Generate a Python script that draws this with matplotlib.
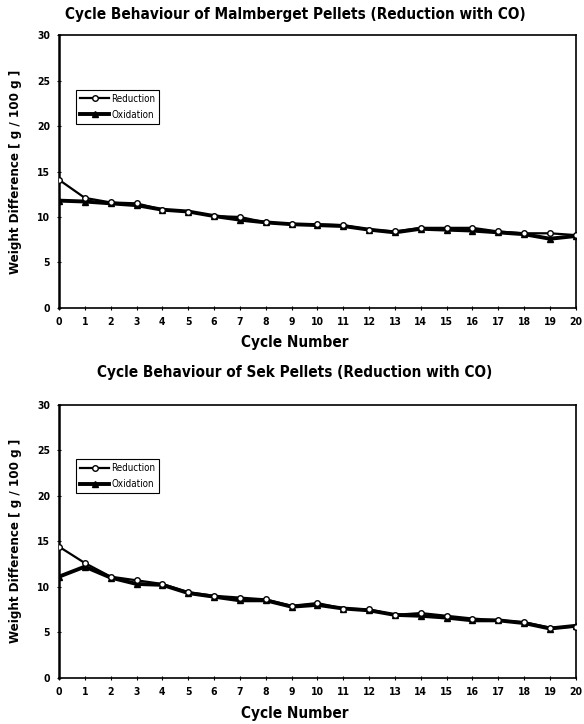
import matplotlib
matplotlib.use("Agg")
import matplotlib.pyplot as plt

cycles = list(range(21))

malm_reduction = [14.1, 12.1, 11.6, 11.5, 10.8, 10.6, 10.1, 10.0, 9.4, 9.2, 9.2,
                  9.1, 8.6, 8.4, 8.8, 8.8, 8.8, 8.4, 8.2, 8.2, 8.0]
malm_oxidation = [11.8, 11.7, 11.5, 11.3, 10.8, 10.6, 10.1, 9.7, 9.4, 9.2, 9.1,
                  9.0, 8.6, 8.3, 8.7, 8.6, 8.5, 8.3, 8.1, 7.6, 7.9]

sek_reduction = [14.4, 12.6, 11.1, 10.7, 10.3, 9.4, 9.0, 8.8, 8.6, 7.9, 8.2,
                 7.6, 7.5, 6.9, 7.1, 6.8, 6.5, 6.3, 6.1, 5.5, 5.6]
sek_oxidation = [11.1, 12.2, 11.0, 10.3, 10.2, 9.3, 8.9, 8.5, 8.5, 7.8, 8.0,
                 7.6, 7.4, 6.9, 6.8, 6.6, 6.3, 6.3, 6.0, 5.4, 5.7]

titles = ["Cycle Behaviour of Malmberget Pellets (Reduction with CO)",
          "Cycle Behaviour of Sek Pellets (Reduction with CO)"]
y_ticks = [0, 5, 10, 15, 20, 25, 30]

plt.rcParams["font.family"] = ["DejaVu Sans"]
plt.rcParams["font.stretch"] = "condensed"

fig = plt.figure(figsize=(5.84, 7.24), dpi=100)

boxes = [[0.101, 0.575, 0.885, 0.376], [0.101, 0.064, 0.885, 0.377]]
title_y = [0.980, 0.486]
xlabel_y = [0.527, 0.014]
series = [(malm_reduction, malm_oxidation), (sek_reduction, sek_oxidation)]

for box, title, ty, xy, (red, ox) in zip(boxes, titles, title_y, xlabel_y, series):
    ax = fig.add_axes(box)
    ax.plot(cycles, ox, color="black", lw=2.8, marker="^", ms=5,
            mfc="black", mec="black", label="Oxidation", zorder=3)
    ax.plot(cycles, red, color="black", lw=1.6, marker="o", ms=4,
            mfc="white", mec="black", mew=1.0, label="Reduction", zorder=4)
    ax.set_xlim(0, 20)
    ax.set_ylim(0, 30)
    ax.set_xticks(cycles)
    ax.set_yticks(y_ticks)
    ax.tick_params(direction="inout", length=3, width=0.8, labelsize=7.5, pad=5)
    for lab in ax.get_xticklabels() + ax.get_yticklabels():
        lab.set_fontweight("bold")
    for name, sp in ax.spines.items():
        sp.set_color("black")
        sp.set_linewidth(1.2)
    ax.spines["left"].set_linewidth(1.8)
    ax.set_ylabel("Weight Difference [ g / 100 g ]", fontsize=9.5, fontweight="bold",
                  labelpad=11)
    handles, labels = ax.get_legend_handles_labels()
    leg = ax.legend(handles[::-1], labels[::-1], loc="upper left",
                    bbox_to_anchor=(0.033, 0.8), fontsize=7, frameon=True,
                    fancybox=False, edgecolor="black", framealpha=1,
                    handlelength=3.0, handletextpad=0.2, borderpad=0.4,
                    labelspacing=0.6, borderaxespad=0)
    leg.get_frame().set_linewidth(0.8)
    fig.text(0.505, ty, title, ha="center", va="center", fontsize=11,
             fontweight="bold")
    fig.text(0.505, xy, "Cycle Number", ha="center", va="center", fontsize=11,
             fontweight="bold")

fig.savefig("out.png", dpi=100)
